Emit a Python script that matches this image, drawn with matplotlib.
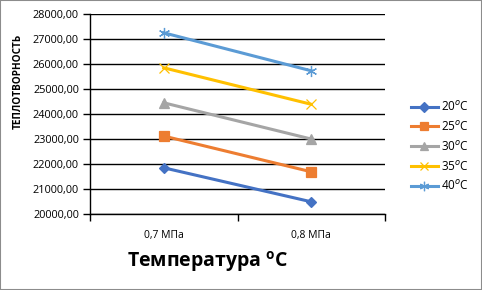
import matplotlib.pyplot as plt
from matplotlib.ticker import FixedLocator, FuncFormatter, NullFormatter

plt.rcParams['font.family'] = ['Open Sans', 'DejaVu Sans']
plt.rcParams['mathtext.fontset'] = 'custom'
plt.rcParams['mathtext.rm'] = 'Open Sans'
plt.rcParams['mathtext.bf'] = 'Open Sans:bold'

categories = ["0,7 МПа", "0,8 МПа"]
series_names = ["20$^{o}$C", "25$^{o}$C", "30$^{o}$C", "35$^{o}$C", "40$^{o}$C"]
t20 = [21860, 20500]
t25 = [23130, 21700]
t30 = [24460, 23010]
t35 = [25860, 24400]
t40 = [27260, 25740]

colors = ["#4472C4", "#ED7D31", "#A5A5A5", "#FFC000", "#5B9BD5"]
markers = ["D", "s", "^", "x", (6, 2, 0)]
msizes = [5.5, 7, 7, 7, 8]

fig = plt.figure(figsize=(4.82, 2.9), dpi=100)
ax = fig.add_axes([90 / 482, 1 - 214.3 / 290, 295 / 482, 200 / 290])

x = list(range(len(categories)))
for vals, name, c, m, ms in zip([t20, t25, t30, t35, t40], series_names, colors, markers, msizes):
    ax.plot(x, vals, color=c, lw=2.2, marker=m, ms=ms, mew=0.9, label=name, zorder=3)

ax.set_xlim(-0.5, 1.5)
ax.set_ylim(20000, 28000)
ax.set_yticks(range(20000, 28001, 1000))
ax.yaxis.set_major_formatter(FuncFormatter(lambda v, p: f"{v:.2f}".replace(".", ",")))
ax.grid(axis="y", color="black", lw=1)
ax.set_axisbelow(True)

ax.xaxis.set_major_locator(FixedLocator([-0.5, 0.5, 1.5]))
ax.xaxis.set_major_formatter(NullFormatter())
ax.xaxis.set_minor_locator(FixedLocator(x))
ax.set_xticklabels(categories, minor=True)
ax.tick_params(axis="x", which="minor", length=0, pad=11, labelsize=7.5)
ax.tick_params(axis="x", which="major", length=5, width=1, color="black")
ax.tick_params(axis="y", length=5, width=1, labelsize=7.8, pad=3)

for s in ["top", "right"]:
    ax.spines[s].set_visible(False)
for s in ["left", "bottom"]:
    ax.spines[s].set_color("black")
    ax.spines[s].set_linewidth(1)

fig.text(18 / 482, 1 - 81 / 290, "ТЕПЛОТВОРНОСТЬ", fontsize=7.2, fontweight="bold",
         rotation=90, ha="center", va="center")
fig.text(0.432, 1 - 262 / 290, "Температура $^{\\mathbf{o}}$C", fontsize=14,
         fontweight="bold", ha="center", va="center")

fig.legend(loc="upper left", bbox_to_anchor=(406 / 482, 1 - 95 / 290), frameon=False,
           fontsize=8.5, handlelength=2.3, labelspacing=0.5, handletextpad=0.25,
           borderaxespad=0, markerscale=0.85)

fig.patches.append(plt.Rectangle((0, 0), 1, 1, transform=fig.transFigure,
                                 fill=False, edgecolor="#8c8c8c", lw=1.5))

fig.savefig("out.png", dpi=100)
